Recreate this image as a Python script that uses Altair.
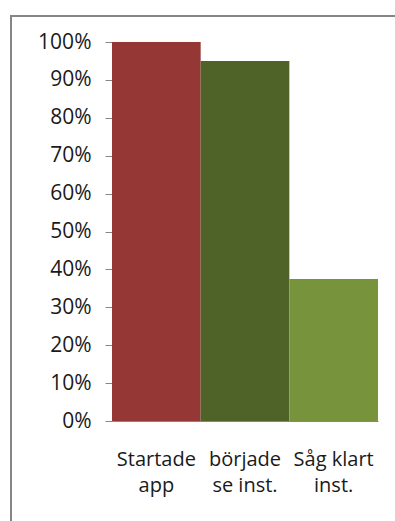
import altair as alt
import pandas as pd

categories = ["Startade app", "började se inst.", "Såg klart inst."]
label_lines = [["Startade", "app"], ["började", "se inst."], ["Såg klart", "inst."]]
values = [1.00, 0.95, 0.375]
colors = ["#953735", "#4F6228", "#77933C"]

df = pd.DataFrame({"cat": categories, "val": values})

expr = " : ".join(
    f"datum.label == '{c}' ? {lines!r}" for c, lines in zip(categories, label_lines)
) + " : datum.label"

FONT = "Open Sans"

bars = alt.Chart(df).mark_bar(clip=False).encode(
    x=alt.X(
        "cat:N",
        sort=categories,
        scale=alt.Scale(paddingInner=0, paddingOuter=0),
        axis=alt.Axis(
            title=None, ticks=False, labelAngle=0, domainColor="#868686",
            labelFont=FONT, labelFontSize=20, labelColor="#1a1a1a", labelFontWeight="normal",
            labelPadding=28, labelLineHeight=26, labelExpr=expr,
        ),
    ),
    y=alt.Y(
        "val:Q",
        scale=alt.Scale(domain=[0, 1], nice=False),
        axis=alt.Axis(
            title=None, format=".0%", values=[i / 10 for i in range(11)],
            grid=False, tickSize=7, tickColor="#868686", domainColor="#868686",
            labelFont=FONT, labelFontSize=21, labelColor="#1a1a1a", labelFontWeight="normal",
            labelPadding=14,
        ),
    ),
    color=alt.Color("cat:N", sort=categories,
                    scale=alt.Scale(domain=categories, range=colors), legend=None),
)

frame = alt.Chart(pd.DataFrame({"a": [0]})).mark_rect(
    fill=None, stroke="#868686", strokeWidth=2, clip=False
).encode(
    x=alt.value(-101), x2=alt.value(400),
    y=alt.value(-26), y2=alt.value(600),
)

chart = alt.layer(frame, bars).properties(
    width=266, height=379,
    autosize=alt.AutoSizeParams(type="none"),
    padding={"left": 112, "top": 42, "right": 17, "bottom": 100},
).configure_view(stroke=None)

chart.save("out.html", embed_options={"renderer": "svg", "actions": False})
